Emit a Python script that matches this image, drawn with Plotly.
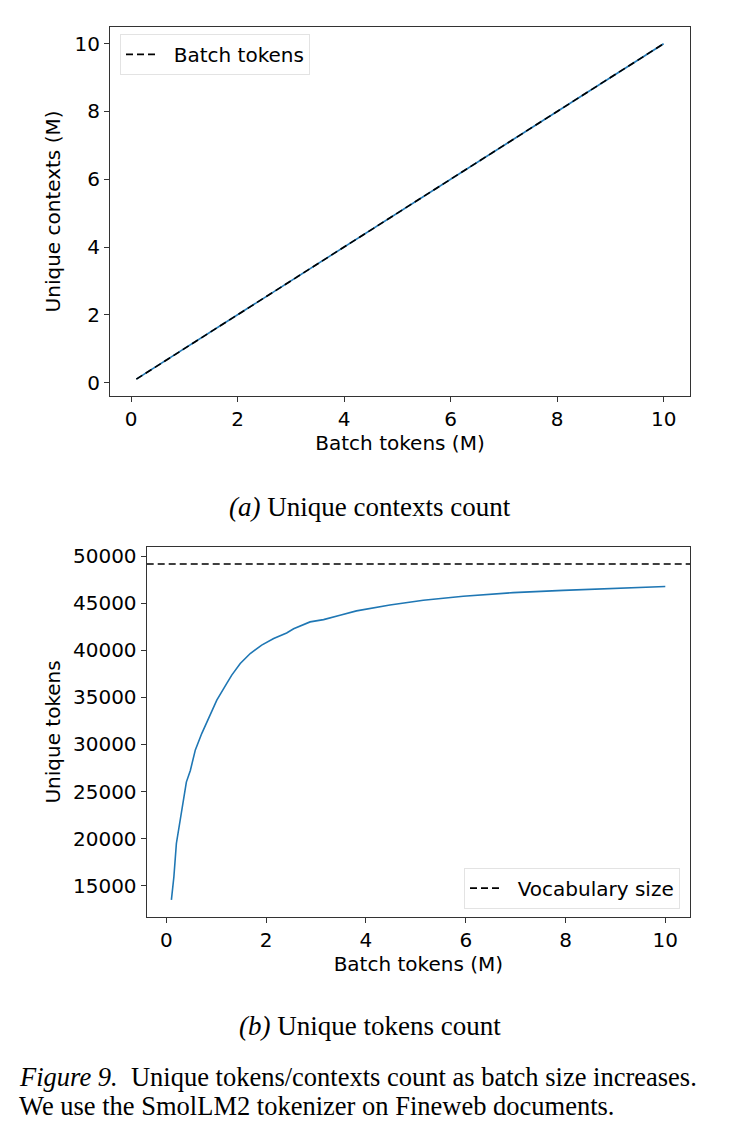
import plotly.graph_objects as go

# ---- Data ----
# (a) unique contexts vs batch tokens (millions)
ctx_batch_m = [0.1, 1, 2, 3, 4, 5, 6, 7, 8, 9, 10]
ctx_unique_m = [0.1, 1, 2, 3, 4, 5, 6, 7, 8, 9, 10]

# (b) unique tokens vs batch tokens (millions)
tok_batch_m = [0.1, 0.15, 0.2, 0.31, 0.4, 0.48, 0.58, 0.71, 0.85, 1.01, 1.21, 1.31,
               1.48, 1.68, 1.91, 2.15, 2.41, 2.55, 2.88, 3.15, 3.48, 3.81, 4.48,
               5.15, 5.95, 6.95, 7.95, 8.96, 10.0]
tok_unique = [13500, 15950, 19480, 23360, 26000, 27240, 29420, 31180, 32770, 34710,
              36480, 37360, 38600, 39650, 40540, 41240, 41840, 42280, 43010, 43250,
              43710, 44180, 44810, 45310, 45730, 46120, 46360, 46580, 46770]
vocab_size = 49152

xticks = [0, 2, 4, 6, 8, 10]
yticks_a = [0, 2, 4, 6, 8, 10]
yticks_b = [15000, 20000, 25000, 30000, 35000, 40000, 45000, 50000]

W, H = 740, 1138
BLUE = "#1f77b4"
AX = "#333333"
FONT = "DejaVu Sans"
SERIF = "Liberation Serif"
FS = 20
NB = "\u00a0\u00a0"

fig = go.Figure()

# (a)
fig.add_trace(go.Scatter(x=ctx_batch_m, y=ctx_unique_m, mode="lines",
                         line=dict(color=BLUE, width=1.6), showlegend=False,
                         xaxis="x", yaxis="y"))
fig.add_trace(go.Scatter(x=ctx_batch_m, y=ctx_batch_m, mode="lines", name=NB + "Batch tokens",
                         line=dict(color="black", width=1.6, dash="7px,4px"),
                         xaxis="x", yaxis="y", legend="legend"))

# (b)
fig.add_trace(go.Scatter(x=tok_batch_m, y=tok_unique, mode="lines",
                         line=dict(color=BLUE, width=1.6), showlegend=False,
                         xaxis="x2", yaxis="y2"))
fig.add_trace(go.Scatter(x=[-0.395, 10.495], y=[vocab_size, vocab_size], mode="lines",
                         name=NB + "Vocabulary size",
                         line=dict(color="black", width=1.6, dash="7px,4px"),
                         xaxis="x2", yaxis="y2", legend="legend2"))

def axis_common():
    return dict(showline=True, linecolor=AX, linewidth=1.2, mirror=True,
                ticks="outside", ticklen=5, tickwidth=1.2, tickcolor=AX,
                showgrid=False, zeroline=False,
                tickfont=dict(family=FONT, size=FS, color="black"),
                title_font=dict(family=FONT, size=FS, color="black"))

fig.update_layout(
    width=W, height=H,
    margin=dict(l=0, r=0, t=0, b=0),
    paper_bgcolor="white", plot_bgcolor="white",
    xaxis=dict(domain=[110 / W, 690 / W], anchor="y", range=[-0.395, 10.495],
               tickvals=xticks, title=dict(text="Batch tokens (M)", standoff=2),
               **axis_common()),
    yaxis=dict(domain=[1 - 394 / H, 1 - 24 / H], anchor="x", range=[-0.395, 10.495],
               tickvals=yticks_a, title=dict(text="Unique contexts (M)", standoff=8),
               **axis_common()),
    xaxis2=dict(domain=[146.7 / W, 690 / W], anchor="y2", range=[-0.395, 10.495],
                tickvals=xticks, title=dict(text="Batch tokens (M)", standoff=2),
                **axis_common()),
    yaxis2=dict(domain=[1 - 916 / H, 1 - 545.7 / H], anchor="x2", range=[11717, 50935],
                tickvals=yticks_b, ticktext=[str(v) for v in yticks_b],
                title=dict(text="Unique tokens", standoff=6),
                **axis_common()),
    legend=dict(x=120 / W, y=1 - 31 / H, xanchor="left", yanchor="top",
                bgcolor="rgba(255,255,255,0.8)", bordercolor="#e3e3e3", borderwidth=1,
                font=dict(family=FONT, size=FS, color="black")),
    legend2=dict(x=680 / W, y=1 - 908 / H, xanchor="right", yanchor="bottom",
                 bgcolor="rgba(255,255,255,0.8)", bordercolor="#e3e3e3", borderwidth=1,
                 font=dict(family=FONT, size=FS, color="black")),
)

CAP = 27
ann = [
    dict(text="<i>(a)</i> Unique contexts count", x=0.5, y=1 - 505 / H),
    dict(text="<i>(b)</i> Unique tokens count", x=0.5, y=1 - 1026 / H),
]
for a in ann:
    fig.add_annotation(xref="paper", yref="paper", x=a["x"], y=a["y"], text=a["text"],
                       showarrow=False, xanchor="center", yanchor="middle",
                       font=dict(family=SERIF, size=CAP, color="black"))

CAP2 = 26.5
fig.add_annotation(xref="paper", yref="paper", x=17 / W, y=1 - 1077 / H,
                   text="<i>Figure 9.</i>  Unique tokens/contexts count as batch size increases.",
                   showarrow=False, xanchor="left", yanchor="middle",
                   font=dict(family=SERIF, size=CAP2, color="black"))
fig.add_annotation(xref="paper", yref="paper", x=17 / W, y=1 - 1106 / H,
                   text="We use the SmolLM2 tokenizer on Fineweb documents.",
                   showarrow=False, xanchor="left", yanchor="middle",
                   font=dict(family=SERIF, size=CAP2, color="black"))

fig.write_html("out.html")
